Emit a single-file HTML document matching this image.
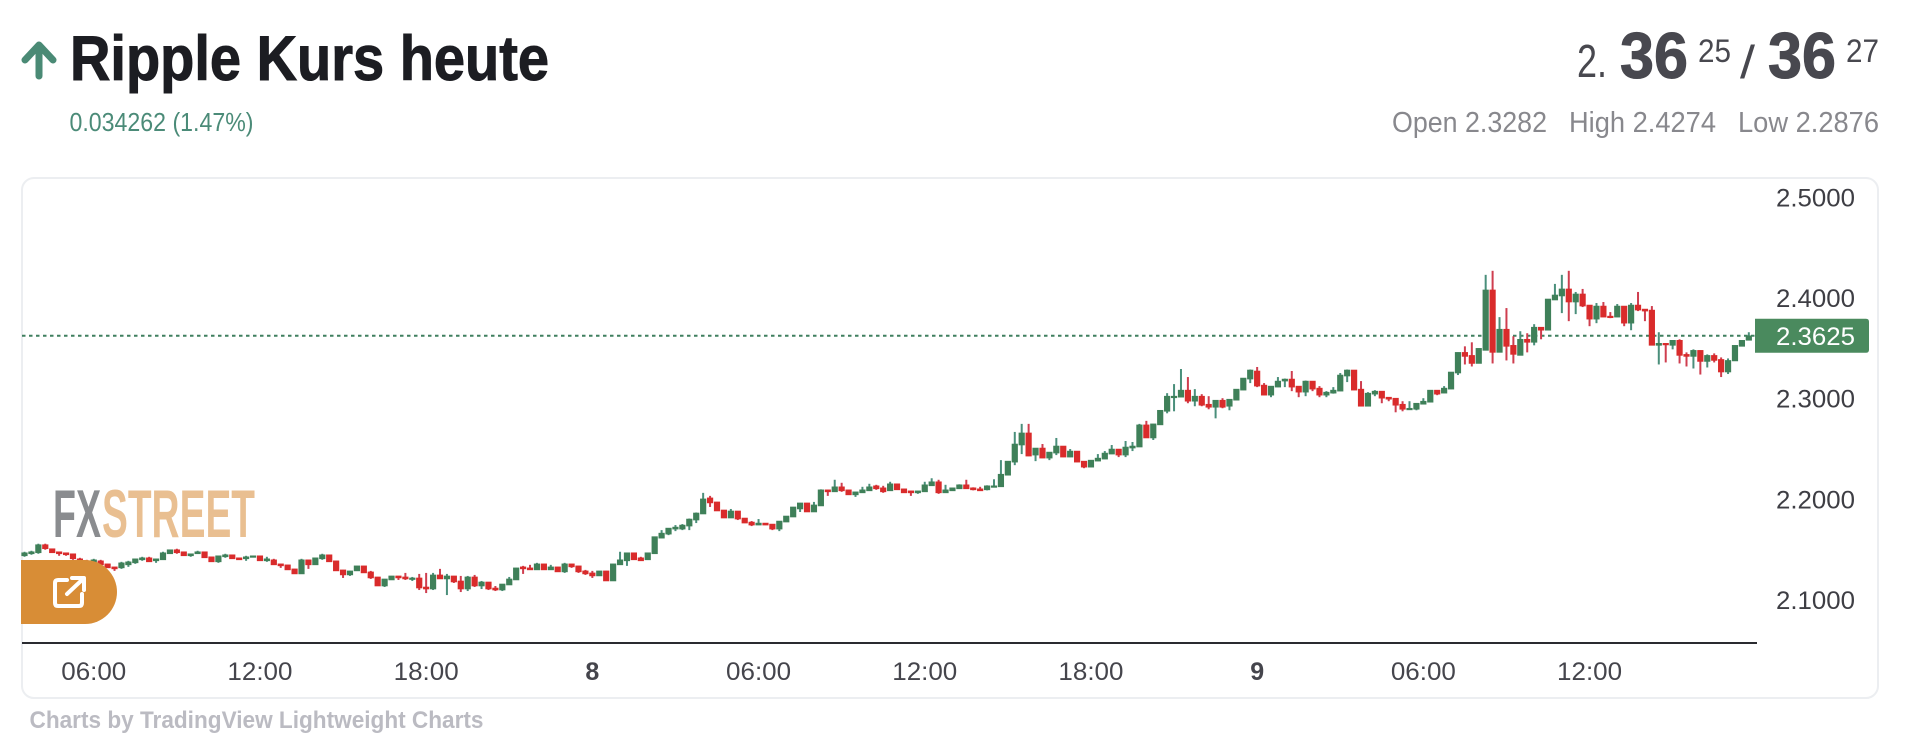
<!DOCTYPE html>
<html lang="de">
<head>
<meta charset="utf-8">
<title>Ripple Kurs heute</title>
<style>
html,body{margin:0;padding:0;background:#fff;width:1910px;height:741px;overflow:hidden}
svg{display:block;position:absolute;left:0;top:0}
text{font-family:"Liberation Sans",sans-serif}
</style>
</head>
<body>
<svg id="root" width="1910" height="741" viewBox="0 0 1910 741">
  <path d="M39 76 V46 M25 60 L39 45 L53 60" fill="none" stroke="#4a8a75" stroke-width="7" stroke-linecap="round" stroke-linejoin="round"/>
  <text x="70" y="80" font-size="63" font-weight="700" fill="#1c1d22" stroke="#1c1d22" stroke-width="1" textLength="479" lengthAdjust="spacingAndGlyphs">Ripple Kurs heute</text>
  <text x="69.5" y="131" font-size="26" fill="#4b8b78" textLength="184" lengthAdjust="spacingAndGlyphs">0.034262 (1.47%)</text>

  <text x="1577" y="77" font-size="46" fill="#48484f" textLength="30" lengthAdjust="spacingAndGlyphs">2.</text>
  <text x="1620" y="78" font-size="65" font-weight="700" fill="#48484f" stroke="#48484f" stroke-width="1" textLength="68" lengthAdjust="spacingAndGlyphs">36</text>
  <text x="1698" y="62" font-size="32" fill="#48484f" textLength="33" lengthAdjust="spacingAndGlyphs">25</text>
  <text x="1740" y="78" font-size="46" fill="#48484f" textLength="15" lengthAdjust="spacingAndGlyphs">/</text>
  <text x="1768" y="78" font-size="65" font-weight="700" fill="#48484f" stroke="#48484f" stroke-width="1" textLength="68" lengthAdjust="spacingAndGlyphs">36</text>
  <text x="1846" y="62" font-size="32" fill="#48484f" textLength="33" lengthAdjust="spacingAndGlyphs">27</text>

  <text x="1392" y="132" font-size="29" fill="#88888d" textLength="155" lengthAdjust="spacingAndGlyphs">Open 2.3282</text>
  <text x="1569" y="132" font-size="29" fill="#88888d" textLength="147" lengthAdjust="spacingAndGlyphs">High 2.4274</text>
  <text x="1738" y="132" font-size="29" fill="#88888d" textLength="141" lengthAdjust="spacingAndGlyphs">Low 2.2876</text>

  <rect x="22" y="178" width="1856" height="520" rx="12" ry="12" fill="#fff" stroke="#eceef1" stroke-width="2"/>

  <text x="53" y="537" font-size="68" font-weight="700" fill="#8a8c8f" textLength="48" lengthAdjust="spacingAndGlyphs">FX</text>
  <text x="102" y="537" font-size="68" font-weight="700" fill="#e9bf91" textLength="153" lengthAdjust="spacingAndGlyphs">STREET</text>

  <g id="chart"></g>

  <path d="M21 560 H85 A32 32 0 0 1 85 624 H21 Z" fill="#d88d36"/>
  <g fill="none" stroke="#fff" stroke-width="4" stroke-linecap="round" stroke-linejoin="round">
    <path d="M67 580 H58 Q55 580 55 583 V603 Q55 606 58 606 H79 Q82 606 82 603 V594"/>
    <path d="M67 594 L83 579 M72 578 H84 V590"/>
  </g>

  <rect x="22" y="642" width="1735" height="2" fill="#2a2b30"/>
  <text x="29.5" y="728" font-size="24" font-weight="700" fill="#bbbbc2" textLength="454" lengthAdjust="spacingAndGlyphs">Charts by TradingView Lightweight Charts</text>
</svg>

<script>
const priceTicks = [2.5, 2.4, 2.3, 2.2, 2.1];
const timeTickLabels = ["06:00","12:00","18:00","8","06:00","12:00","18:00","9","06:00","12:00"];
const timeTickCandles = [10,34,58,82,106,130,154,178,202,226];
const lastPrice = 2.3625;

const opens = [
2.144,2.146,2.147,2.155,2.151,2.148,2.147,2.146,2.141,2.139,
2.137,2.139,2.136,2.133,2.132,2.135,2.137,2.140,2.142,2.139,
2.140,2.146,2.150,2.148,2.144,2.146,2.148,2.143,2.138,2.143,
2.145,2.142,2.141,2.143,2.144,2.139,2.140,2.136,2.135,2.131,
2.126,2.140,2.135,2.141,2.145,2.139,2.130,2.125,2.129,2.134,
2.128,2.123,2.114,2.120,2.124,2.123,2.121,2.122,2.113,2.111,
2.125,2.121,2.124,2.119,2.111,2.123,2.114,2.118,2.112,2.110,
2.115,2.120,2.133,2.132,2.130,2.136,2.130,2.133,2.128,2.136,
2.134,2.129,2.127,2.124,2.129,2.119,2.135,2.139,2.147,2.142,
2.140,2.146,2.1615,2.1655,2.1705,2.1705,2.1735,2.1795,2.1855,2.2015,
2.1975,2.1895,2.1815,2.1885,2.1815,2.1775,2.1745,2.1765,2.1755,2.1705,
2.1775,2.1825,2.1905,2.1965,2.1875,2.1935,2.2095,2.2075,2.2125,2.2095,
2.2045,2.2065,2.2085,2.2135,2.2115,2.2085,2.2155,2.2105,2.2085,2.2065,
2.2075,2.2135,2.2175,2.2065,2.2085,2.2105,2.2145,2.2115,2.2105,2.2095,
2.2125,2.2125,2.224,2.237,2.254,2.266,2.244,2.251,2.241,2.246,
2.253,2.242,2.248,2.238,2.232,2.238,2.240,2.245,2.250,2.244,
2.251,2.252,2.274,2.261,2.274,2.2875,2.3015,2.3015,2.3085,2.2975,
2.3025,2.2945,2.2915,2.2985,2.2925,2.2985,2.3085,2.3195,2.3275,2.3135,
2.3035,2.3115,2.3175,2.3195,2.3125,2.3065,2.3175,2.3105,2.3035,2.3055,
2.3075,2.3225,2.3285,2.3095,2.2925,2.3045,2.3075,2.3015,2.3005,2.2945,
2.2895,2.2895,2.2945,2.2965,2.3085,2.3055,2.3095,2.3255,2.346,2.343,
2.335,2.348,2.408,2.346,2.369,2.353,2.343,2.359,2.356,2.371,
2.368,2.398,2.402,2.409,2.396,2.404,2.393,2.379,2.392,2.382,
2.381,2.392,2.375,2.393,2.389,2.388,2.353,2.355,2.353,2.358,
2.344,2.342,2.348,2.337,2.343,2.339,2.3265,2.3375,2.352,2.358];

const highs = [
2.148,2.149,2.156,2.156,2.151,2.148,2.147,2.146,2.142,2.140,
2.141,2.140,2.136,2.133,2.138,2.139,2.141,2.143,2.143,2.141,
2.148,2.150,2.151,2.148,2.146,2.149,2.148,2.143,2.144,2.146,
2.145,2.142,2.144,2.144,2.144,2.143,2.141,2.136,2.135,2.131,
2.141,2.140,2.142,2.146,2.145,2.139,2.130,2.129,2.134,2.134,
2.129,2.123,2.121,2.124,2.124,2.127,2.123,2.126,2.127,2.127,
2.131,2.126,2.124,2.124,2.124,2.125,2.119,2.118,2.114,2.116,
2.123,2.132,2.134,2.135,2.137,2.136,2.135,2.133,2.137,2.136,
2.134,2.130,2.129,2.129,2.129,2.136,2.148,2.147,2.147,2.143,
2.147,2.163,2.1695,2.1715,2.1745,2.1755,2.181,2.187,2.2065,2.2035,
2.1975,2.1895,2.1905,2.1885,2.1815,2.1785,2.1805,2.1765,2.1755,2.1785,
2.1835,2.1925,2.1965,2.1965,2.1975,2.210,2.2095,2.2195,2.2165,2.2095,
2.2075,2.2125,2.2155,2.2145,2.2135,2.2175,2.2155,2.2105,2.2085,2.2085,
2.2175,2.221,2.2195,2.2145,2.2115,2.215,2.2195,2.212,2.2125,2.214,
2.220,2.239,2.238,2.267,2.275,2.275,2.251,2.255,2.247,2.261,
2.253,2.250,2.248,2.238,2.239,2.245,2.248,2.254,2.250,2.258,
2.257,2.275,2.278,2.275,2.2885,2.3055,2.3145,2.3295,2.3215,2.3095,
2.3045,2.3025,2.2985,2.3005,2.2995,2.3095,2.3205,2.329,2.3315,2.3155,
2.3125,2.3215,2.320,2.3275,2.3125,2.318,2.3175,2.3125,2.3075,2.3115,
2.3255,2.329,2.3285,2.3175,2.3065,2.3085,2.3075,2.3015,2.3005,2.2975,
2.2975,2.2955,2.3005,2.3085,2.3085,2.3125,2.3265,2.346,2.352,2.356,
2.350,2.423,2.427,2.381,2.390,2.362,2.367,2.365,2.374,2.371,
2.399,2.414,2.423,2.427,2.406,2.409,2.393,2.395,2.396,2.386,
2.394,2.392,2.395,2.406,2.389,2.392,2.366,2.355,2.358,2.359,
2.346,2.349,2.348,2.344,2.345,2.341,2.340,2.353,2.358,2.366];

const lows = [
2.143,2.145,2.146,2.150,2.147,2.144,2.144,2.140,2.138,2.137,
2.136,2.135,2.132,2.129,2.131,2.133,2.136,2.139,2.138,2.137,
2.140,2.146,2.146,2.144,2.143,2.146,2.142,2.138,2.137,2.142,
2.141,2.140,2.139,2.143,2.139,2.138,2.135,2.132,2.130,2.126,
2.126,2.131,2.135,2.140,2.138,2.129,2.122,2.124,2.129,2.127,
2.121,2.114,2.113,2.120,2.120,2.120,2.119,2.110,2.107,2.110,
2.121,2.105,2.117,2.108,2.109,2.113,2.111,2.110,2.109,2.109,
2.115,2.120,2.126,2.130,2.130,2.130,2.130,2.128,2.127,2.132,
2.127,2.125,2.122,2.124,2.119,2.119,2.135,2.134,2.140,2.139,
2.140,2.146,2.1615,2.1645,2.1685,2.1695,2.1695,2.1765,2.1855,2.1925,
2.1885,2.1815,2.1815,2.1795,2.1765,2.1735,2.1745,2.1745,2.1695,2.1685,
2.1775,2.1825,2.1875,2.1875,2.1875,2.1935,2.2035,2.2075,2.2075,2.2045,
2.2025,2.2065,2.2085,2.2095,2.2065,2.2085,2.2095,2.2065,2.2035,2.2055,
2.2075,2.2135,2.2055,2.2065,2.2085,2.2105,2.2105,2.209,2.2085,2.209,
2.2125,2.2125,2.224,2.234,2.245,2.243,2.238,2.241,2.239,2.244,
2.242,2.242,2.237,2.231,2.232,2.238,2.240,2.245,2.242,2.242,
2.248,2.252,2.261,2.259,2.274,2.2855,2.2875,2.3015,2.2955,2.2925,
2.2925,2.2895,2.2805,2.2905,2.2885,2.2985,2.3085,2.3155,2.3115,2.3035,
2.3015,2.3115,2.3115,2.3075,2.3015,2.3025,2.3075,2.3015,2.3015,2.305,
2.3075,2.3165,2.3085,2.2925,2.2925,2.3025,2.2955,2.2975,2.2865,2.2875,
2.2895,2.2885,2.2945,2.2965,2.3035,2.3055,2.3095,2.3235,2.334,2.332,
2.335,2.348,2.335,2.346,2.338,2.335,2.343,2.346,2.353,2.359,
2.368,2.398,2.385,2.377,2.384,2.391,2.372,2.375,2.381,2.380,
2.381,2.372,2.368,2.387,2.377,2.353,2.334,2.336,2.349,2.335,
2.332,2.330,2.324,2.331,2.336,2.3215,2.3245,2.3375,2.352,2.358];

const closes = [
2.147,2.148,2.155,2.151,2.147,2.146,2.145,2.141,2.139,2.138,
2.140,2.135,2.132,2.131,2.137,2.138,2.141,2.142,2.138,2.141,
2.147,2.150,2.147,2.144,2.146,2.148,2.142,2.138,2.144,2.145,
2.141,2.140,2.143,2.144,2.139,2.141,2.135,2.134,2.130,2.126,
2.140,2.135,2.142,2.145,2.138,2.129,2.125,2.129,2.134,2.127,
2.122,2.114,2.121,2.124,2.122,2.121,2.122,2.112,2.111,2.125,
2.121,2.124,2.118,2.111,2.123,2.114,2.118,2.111,2.110,2.116,
2.121,2.132,2.131,2.130,2.136,2.130,2.133,2.128,2.136,2.133,
2.128,2.126,2.124,2.129,2.119,2.136,2.140,2.147,2.140,2.139,
2.147,2.163,2.1665,2.1715,2.1725,2.1745,2.1805,2.1865,2.2005,2.1965,
2.1885,2.1815,2.1885,2.1805,2.1765,2.1745,2.1765,2.1745,2.1705,2.1785,
2.1835,2.1925,2.1965,2.1875,2.1945,2.2095,2.2075,2.2125,2.2085,2.2045,
2.2075,2.2095,2.2125,2.2105,2.2075,2.2155,2.2095,2.2065,2.2065,2.2085,
2.2145,2.2175,2.2065,2.2095,2.2115,2.2145,2.2105,2.2095,2.2085,2.2135,
2.2135,2.225,2.238,2.255,2.266,2.243,2.251,2.241,2.247,2.253,
2.242,2.248,2.237,2.232,2.239,2.241,2.246,2.250,2.244,2.252,
2.253,2.274,2.261,2.275,2.2885,2.3025,2.3025,2.3085,2.2975,2.3025,
2.2935,2.2915,2.2985,2.2915,2.2995,2.3095,2.3205,2.3285,2.3125,2.3035,
2.3125,2.3175,2.3195,2.3115,2.3065,2.3175,2.3095,2.3035,2.3065,2.3085,
2.3235,2.3285,2.3085,2.2925,2.3055,2.3075,2.3005,2.2995,2.2935,2.2895,
2.2905,2.2955,2.2975,2.3085,2.3045,2.3105,2.3265,2.346,2.342,2.335,
2.350,2.408,2.346,2.369,2.352,2.344,2.359,2.356,2.371,2.368,
2.399,2.403,2.409,2.396,2.404,2.392,2.379,2.392,2.381,2.381,
2.392,2.375,2.393,2.388,2.387,2.353,2.355,2.354,2.358,2.343,
2.342,2.348,2.337,2.343,2.338,2.3265,2.338,2.353,2.358,2.3625];

const SVG_NS = "http://www.w3.org/2000/svg";
const chart = document.getElementById("chart");

function xScale(i) { return 24.5 + 6.925 * i; }
function yScale(p) { return 298 + (2.4 - p) * 1007; }

function make(tag, attrs, parent) {
  const el = document.createElementNS(SVG_NS, tag);
  for (const k in attrs) el.setAttribute(k, attrs[k]);
  parent.appendChild(el);
  return el;
}

// horizontal price line for the latest quote (sits behind the candles)
const priceLine = make("line", {
  x1: 22, x2: 1755,
  y1: yScale(lastPrice), y2: yScale(lastPrice),
  stroke: "#3f7f5f", "stroke-width": 2, "stroke-dasharray": "3.5 3.5"
}, chart);



// candles
const GREEN_BODY = "#3f8059", GREEN_WICK = "#4a8f7b";
const RED_BODY = "#d92b2b", RED_WICK = "#cf3e4f";
opens.forEach(function (open, i) {
  const close = closes[i];
  const up = close >= open;
  const x = xScale(i);
  const g = make("g", {}, chart);
  
  
  make("rect", {
    x: x - 1, width: 2,
    y: yScale(highs[i]),
    height: Math.max(1, yScale(lows[i]) - yScale(highs[i])),
    fill: up ? GREEN_WICK : RED_WICK
  }, g);
  const top = yScale(Math.max(open, close));
  const bottom = yScale(Math.min(open, close));
  make("rect", {
    x: x - 3.1, width: 6.2,
    y: top - 0.3,
    height: Math.max(2.2, bottom - top + 0.6),
    fill: up ? GREEN_BODY : RED_BODY
  }, g);
});

// price axis
priceTicks.forEach(function (p) {
  const t = make("text", {
    x: 1776, y: yScale(p) + 9, "font-size": 25, fill: "#3e3e44",
    textLength: 79, lengthAdjust: "spacingAndGlyphs"
  }, chart);
  
  
  t.textContent = p.toFixed(4);
});

// last price tag
const tag = make("path", {
  d: "M1755 " + (yScale(lastPrice) - 17) + " H1866 Q1869 " + (yScale(lastPrice) - 17) + " 1869 " + (yScale(lastPrice) - 14) +
     " V" + (yScale(lastPrice) + 14) + " Q1869 " + (yScale(lastPrice) + 17) + " 1866 " + (yScale(lastPrice) + 17) + " H1755 Z",
  fill: "#4a8a5e"
}, chart);



const tagText = make("text", {
  x: 1776, y: yScale(lastPrice) + 9, "font-size": 25, fill: "#fff",
  textLength: 79, lengthAdjust: "spacingAndGlyphs"
}, chart);


tagText.textContent = lastPrice.toFixed(4);

// time axis
timeTickLabels.forEach(function (label, i) {
  const isDay = label.length === 1;
  const t = make("text", {
    x: xScale(timeTickCandles[i]), y: 680, "font-size": 25, "text-anchor": "middle",
    fill: "#45454c", "font-weight": isDay ? 700 : 400
  }, chart);
  if (!isDay) {
    t.setAttribute("textLength", 65);
    t.setAttribute("lengthAdjust", "spacingAndGlyphs");
  }
  
  
  t.textContent = label;
});
</script>
</body>
</html>
